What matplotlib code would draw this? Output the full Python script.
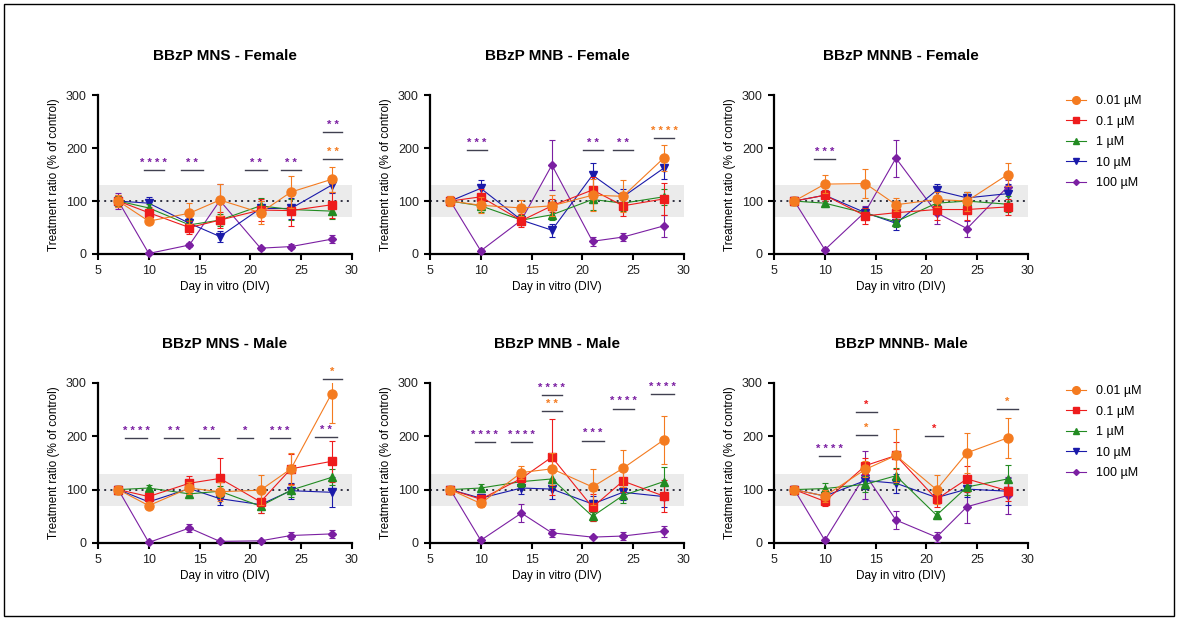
import matplotlib.pyplot as plt
from matplotlib.lines import Line2D
from matplotlib.patches import Rectangle

plt.rcParams['font.family'] = ['Liberation Sans', 'DejaVu Sans']

# day in vitro for every measurement
dias = [7, 10, 14, 17, 21, 24, 28]
dosis = ['0.01 µM', '0.1 µM', '1 µM', '10 µM', '100 µM']
colores = ['#F47B20', '#EE1C1C', '#228B22', '#1A1AAA', '#7B1FA2']
marcadores = ['o', 's', '^', 'v', 'D']
tamanos = [6.5, 6.0, 5.5, 5.5, 4.0]

# mean treatment ratio (% of control), one row per dose
mns_f = [[100, 62, 77, 102, 78, 117, 141],
         [100, 78, 50, 64, 83, 82, 93],
         [100, 87, 55, 64, 91, 84, 81],
         [100, 96, 58, 33, 86, 86, 130],
         [100, 1, 17, 101, 11, 14, 28]]
mns_f_err = [[12, 6, 20, 30, 22, 30, 23],
             [12, 10, 12, 15, 20, 30, 25],
             [10, 8, 10, 12, 15, 20, 15],
             [10, 12, 10, 10, 15, 20, 15],
             [15, 2, 4, 32, 3, 4, 8]]

mnb_f = [[100, 92, 87, 91, 111, 109, 181],
         [100, 108, 63, 91, 121, 91, 104],
         [100, 91, 64, 74, 103, 96, 108],
         [100, 124, 64, 45, 149, 108, 162],
         [100, 6, 64, 168, 24, 32, 53]]
mnb_f_err = [[10, 15, 15, 20, 30, 30, 25],
             [10, 15, 12, 12, 25, 20, 30],
             [8, 12, 10, 10, 20, 15, 15],
             [8, 15, 10, 12, 22, 15, 20],
             [8, 3, 8, 47, 8, 7, 20]]

mnnb_f = [[100, 132, 133, 93, 103, 100, 150],
          [100, 111, 72, 78, 84, 84, 89],
          [100, 96, 77, 61, 96, 100, 94],
          [100, 111, 78, 58, 120, 106, 114],
          [100, 8, 80, 181, 78, 48, 127]]
mnnb_f_err = [[8, 17, 27, 12, 15, 18, 22],
              [8, 10, 15, 12, 20, 20, 15],
              [6, 8, 10, 10, 12, 18, 15],
              [6, 10, 10, 12, 12, 12, 18],
              [6, 3, 10, 35, 22, 15, 12]]

mns_m = [[100, 70, 103, 96, 99, 139, 280],
         [100, 87, 112, 121, 77, 139, 153],
         [100, 103, 92, 97, 69, 99, 123],
         [100, 77, 102, 83, 72, 98, 95],
         [100, 1, 28, 3, 4, 14, 17]]
mns_m_err = [[6, 5, 12, 18, 28, 30, 56],
             [6, 10, 14, 38, 20, 28, 38],
             [6, 6, 8, 10, 12, 12, 15],
             [6, 10, 10, 12, 10, 15, 28],
             [6, 2, 8, 2, 2, 6, 8]]

mnb_m = [[100, 74, 132, 139, 105, 140, 193],
         [100, 82, 121, 161, 67, 116, 88],
         [100, 103, 115, 120, 50, 89, 115],
         [100, 84, 103, 101, 73, 95, 87],
         [100, 5, 56, 19, 11, 13, 22]]
mnb_m_err = [[5, 6, 12, 30, 33, 35, 45],
             [5, 8, 15, 72, 25, 20, 30],
             [5, 8, 10, 15, 8, 15, 28],
             [5, 8, 12, 18, 15, 15, 20],
             [5, 2, 17, 7, 2, 7, 10]]

mnnb_m = [[100, 88, 138, 164, 100, 169, 197],
          [100, 78, 145, 164, 82, 120, 98],
          [100, 102, 110, 126, 52, 105, 120],
          [100, 88, 117, 112, 85, 101, 97],
          [100, 5, 128, 43, 11, 68, 89]]
mnnb_m_err = [[6, 12, 15, 50, 27, 37, 38],
              [6, 8, 15, 25, 15, 25, 20],
              [6, 10, 15, 15, 8, 15, 27],
              [6, 8, 15, 18, 10, 15, 25],
              [6, 3, 45, 17, 10, 30, 35]]

# significance bars: (x start, x end, height, number of stars, dose index)
sig_mns_f = [(9.5, 11.5, 158, 4, 4), (13.2, 15.3, 158, 2, 4),
             (19.5, 21.6, 158, 2, 4), (23.0, 25.0, 158, 2, 4),
             (27.2, 29.0, 230, 2, 4), (27.2, 29.0, 179, 2, 0)]
sig_mnb_f = [(8.6, 10.6, 197, 3, 4), (20.1, 22.0, 197, 2, 4),
             (23.0, 25.0, 197, 2, 4), (27.1, 29.0, 219, 4, 0)]
sig_mnnb_f = [(8.9, 11.0, 179, 3, 4)]
sig_mns_m = [(7.7, 9.8, 196, 4, 4), (11.5, 13.4, 196, 2, 4),
             (14.9, 16.9, 196, 2, 4), (18.7, 20.3, 196, 1, 4),
             (21.9, 23.9, 196, 3, 4), (26.4, 28.5, 198, 2, 4),
             (27.2, 29.0, 308, 1, 0)]
sig_mnb_m = [(9.4, 11.4, 189, 4, 4), (13.0, 15.0, 189, 4, 4),
             (16.0, 18.0, 277, 4, 4), (16.0, 18.0, 248, 2, 0),
             (20.0, 22.1, 192, 3, 4), (23.0, 25.1, 252, 4, 4),
             (26.8, 29.0, 279, 4, 4)]
sig_mnnb_m = [(9.4, 11.5, 163, 4, 4), (13.1, 15.1, 245, 1, 1),
              (13.1, 15.1, 203, 1, 0), (19.9, 21.6, 200, 1, 1),
              (27.0, 29.0, 252, 1, 0)]

paneles = [
    ('BBzP MNS - Female', mns_f, mns_f_err, sig_mns_f),
    ('BBzP MNB - Female', mnb_f, mnb_f_err, sig_mnb_f),
    ('BBzP MNNB - Female', mnnb_f, mnnb_f_err, sig_mnnb_f),
    ('BBzP MNS - Male', mns_m, mns_m_err, sig_mns_m),
    ('BBzP MNB - Male', mnb_m, mnb_m_err, sig_mnb_m),
    ('BBzP MNNB- Male', mnnb_m, mnnb_m_err, sig_mnnb_m),
]

fig = plt.figure(figsize=(11.79, 6.18), dpi=100)

izq = [0.0831, 0.3647, 0.6565]
abajo = [0.589, 0.1214]
alto = [0.257, 0.259]


def grafica(ax, titulo, medias, errores, marcas):
    ax.axhspan(70, 130, color='#ebebeb', zorder=0, lw=0)
    ax.axhline(100, color='#303040', lw=1.4, ls=(0, (1, 2.2)), zorder=1)
    # purple first so the lower doses end up on top
    for i in reversed(range(len(dosis))):
        linea, tapas, barras = ax.errorbar(
            dias, medias[i], yerr=errores[i], color=colores[i],
            marker=marcadores[i], ms=tamanos[i], lw=0.8,
            elinewidth=0.8, capsize=2.5, capthick=0.8,
            zorder=3 + (4 - i) * 0.1)
        # markers may sit on the axis, bars stay inside the 0-300 range
        linea.set_clip_on(False)
        for t in tapas:
            t.set_clip_on(True)
        for b in barras:
            b.set_clip_on(True)
    for x0, x1, y, n, k in marcas:
        ax.plot([x0, x1], [y, y], color='#404050', lw=1, clip_on=False)
        ax.annotate(' '.join(['*'] * n), xy=((x0 + x1) / 2, y),
                    xytext=(0, 1.5), textcoords='offset points',
                    ha='center', va='bottom', fontsize=8,
                    color=colores[k], fontweight='bold',
                    annotation_clip=False)
    ax.set_xlim(5, 30)
    ax.set_ylim(0, 300)
    ax.set_xticks([5, 10, 15, 20, 25, 30])
    ax.set_yticks([0, 100, 200, 300])
    for s in ['top', 'right']:
        ax.spines[s].set_visible(False)
    for s in ['left', 'bottom']:
        ax.spines[s].set_linewidth(1.6)
    ax.tick_params(direction='out', length=4.5, width=1.5, labelsize=9,
                   labelcolor='#222222')
    ax.set_xlabel('Day in vitro (DIV)', fontsize=8.5, labelpad=3)
    ax.set_ylabel('Treatment ratio (% of control)', fontsize=8.5, labelpad=4)
    ax.set_title(titulo, fontsize=11, fontweight='bold', pad=25)


for n, (titulo, medias, errores, marcas) in enumerate(paneles):
    fila, col = divmod(n, 3)
    ax = fig.add_axes([izq[col], abajo[fila], 0.2154, alto[fila]])
    grafica(ax, titulo, medias, errores, marcas)

manijas = [Line2D([], [], color=colores[i], marker=marcadores[i],
                  ms=tamanos[i] - 1, lw=0.8) for i in range(len(dosis))]
for y in [0.846, 0.377]:
    fig.legend(manijas, dosis, loc='upper left', bbox_to_anchor=(0.904, y),
               frameon=False, fontsize=9, handlelength=1.6,
               handletextpad=0.8, labelspacing=0.68, borderpad=0,
               borderaxespad=0)

fig.add_artist(Rectangle((0.003, 0.004), 0.993, 0.99, transform=fig.transFigure,
                         fill=False, lw=1, ec='black'))

fig.savefig('out.png', dpi=100)
